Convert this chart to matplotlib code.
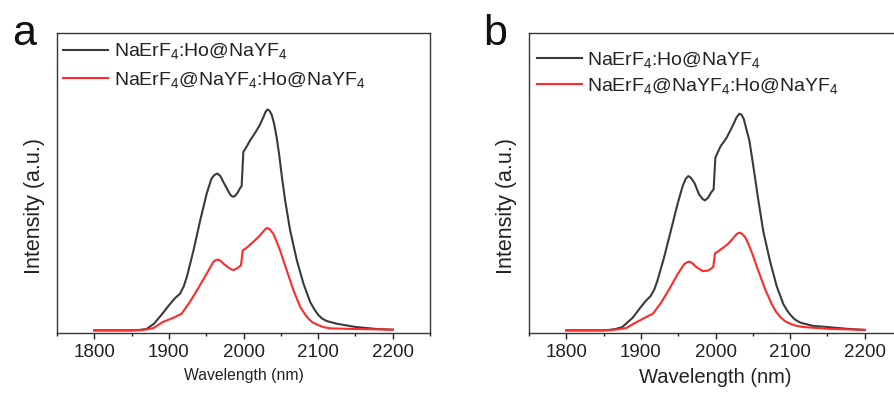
import matplotlib
matplotlib.use("Agg")
import matplotlib.pyplot as plt
from matplotlib.ticker import MultipleLocator

plt.rcParams['font.family'] = ['Liberation Sans', 'DejaVu Sans']
plt.rcParams['mathtext.fontset'] = 'custom'
plt.rcParams['mathtext.rm'] = 'Liberation Sans'
plt.rcParams['mathtext.default'] = 'regular'

# ---------------- data ----------------
labels = ['NaErF$_4$:Ho@NaYF$_4$', 'NaErF$_4$@NaYF$_4$:Ho@NaYF$_4$']
xticks = [1800, 1900, 2000, 2100, 2200]

# panel a, black
a_black_x = [1800, 1850, 1861, 1870, 1880, 1890, 1900, 1908, 1915, 1920, 1924, 1933, 1942,
             1950.6, 1957, 1961, 1965, 1969, 1973, 1978, 1982, 1985, 1988, 1992, 1995,
             1997.5, 1999.8, 2004, 2008.7, 2013, 2017.7, 2022, 2026.7, 2029.5, 2032, 2035,
             2038, 2041, 2044.6, 2048, 2052, 2055.8, 2062.5, 2071.5, 2080.4, 2089.4, 2095,
             2100.6, 2106, 2111.7, 2125, 2150.7, 2178.9, 2200]
a_black_y = [0.0, 0.0, 0.002, 0.006, 0.03, 0.07, 0.113, 0.145, 0.166, 0.2, 0.241, 0.362,
             0.498, 0.618, 0.686, 0.703, 0.709, 0.698, 0.671, 0.64, 0.615, 0.605, 0.606,
             0.622, 0.641, 0.652, 0.807, 0.83, 0.858, 0.88, 0.905, 0.93, 0.965, 0.988,
             0.999, 0.993, 0.973, 0.935, 0.87, 0.79, 0.68, 0.588, 0.452, 0.317, 0.211, 0.128,
             0.095, 0.068, 0.052, 0.042, 0.03, 0.015, 0.006, 0.003]
# panel a, red
a_red_x = [1800, 1850, 1861, 1870, 1879, 1892, 1906, 1917, 1928, 1939, 1950.6, 1959.5, 1963,
           1966, 1970, 1973, 1979, 1984, 1987, 1991, 1996.6, 1999, 2004, 2008.7, 2014, 2020,
           2026, 2029, 2032, 2035, 2040, 2044, 2049, 2058, 2067, 2076, 2082, 2087, 2093,
           2100.6, 2108, 2116, 2150.7, 2200]
a_red_y = [0.0, 0.0, 0.001, 0.004, 0.01, 0.038, 0.057, 0.075, 0.128, 0.189, 0.256, 0.309,
           0.318, 0.32, 0.312, 0.302, 0.286, 0.275, 0.273, 0.28, 0.294, 0.362, 0.373, 0.387,
           0.403, 0.422, 0.445, 0.457, 0.463, 0.458, 0.437, 0.405, 0.362, 0.271, 0.181, 0.106,
           0.075, 0.053, 0.035, 0.023, 0.014, 0.009, 0.006, 0.003]

# panel b, black
b_black_x = [1800, 1850, 1857.5, 1866, 1875, 1889, 1900, 1907, 1913, 1918, 1922, 1931, 1940,
             1949, 1956, 1960, 1963.5, 1967, 1971.6, 1978, 1983, 1986, 1990, 1994, 1997.5,
             1999.8, 2003, 2007, 2011, 2015, 2020, 2024, 2028, 2032, 2035, 2038, 2041,
             2045.5, 2051, 2057.6, 2064, 2073, 2082, 2091, 2096, 2100, 2106, 2113.5, 2131,
             2150, 2176, 2200]
b_black_y = [0.0, 0.0, 0.002, 0.006, 0.015, 0.057, 0.106, 0.135, 0.155, 0.185, 0.223, 0.329,
             0.449, 0.57, 0.653, 0.685, 0.698, 0.69, 0.668, 0.615, 0.593, 0.588, 0.6, 0.623,
             0.638, 0.781, 0.805, 0.834, 0.852, 0.872, 0.905, 0.932, 0.962, 0.98, 0.975,
             0.955, 0.915, 0.857, 0.736, 0.585, 0.449, 0.314, 0.2, 0.118, 0.09, 0.072, 0.05,
             0.035, 0.02, 0.015, 0.007, 0.002]
# panel b, red
b_red_x = [1800, 1850, 1857.5, 1868, 1880, 1893, 1907, 1916, 1927, 1938, 1949, 1958, 1962,
           1965, 1969, 1973, 1978, 1983, 1989.5, 1994, 1997, 1999.3, 2003, 2007, 2012, 2017,
           2022, 2026, 2029, 2032, 2035, 2039.7, 2044, 2048.7, 2057.6, 2066.5, 2075.5, 2081,
           2087, 2093, 2100, 2108, 2118, 2150, 2200]
b_red_y = [0.0, 0.0, 0.001, 0.004, 0.01, 0.035, 0.06, 0.075, 0.125, 0.186, 0.253, 0.299,
           0.308, 0.311, 0.304, 0.29, 0.278, 0.268, 0.27, 0.279, 0.287, 0.348, 0.356, 0.366,
           0.378, 0.392, 0.41, 0.427, 0.437, 0.442, 0.438, 0.422, 0.392, 0.352, 0.268, 0.186,
           0.118, 0.085, 0.06, 0.042, 0.03, 0.021, 0.015, 0.007, 0.002]

BLACK = '#3a3a3a'
RED = '#ff2a2a'

W, H = 894, 394
fig = plt.figure(figsize=(W / 100, H / 100), dpi=100)

def px_axes(left, top, right, bottom):
    return fig.add_axes([left / W, (H - bottom) / H, (right - left) / W, (bottom - top) / H])

ax_a = px_axes(57, 33, 430, 333)
ax_b = px_axes(529, 33, 902, 333)

panels = [
    (ax_a, a_black_x, a_black_y, a_red_x, a_red_y, 11.3, (0.016, 0.972), 0.45),
    (ax_b, b_black_x, b_black_y, b_red_x, b_red_y, 14.5, (0.021, 0.944), 0.3),
]

for ax, bx, by, rx, ry, xlab_fs, leg_anchor, lspace in panels:
    ax.plot(bx, by, color=BLACK, lw=1.5, label=labels[0], solid_joinstyle='round')
    ax.plot(rx, ry, color=RED, lw=1.5, label=labels[1], solid_joinstyle='round')
    ax.set_xlim(1750, 2250)
    ax.set_ylim(-0.012, 1.345)
    ax.set_xticks(xticks)
    ax.xaxis.set_minor_locator(MultipleLocator(50))
    ax.set_yticks([])
    ax.tick_params(axis='x', which='major', direction='out', length=4, width=1.0,
                   labelsize=13.5, colors='#222222', pad=4)
    ax.tick_params(axis='x', which='minor', direction='out', length=2.5, width=1.0,
                   colors='#222222')
    for s in ax.spines.values():
        s.set_color('#333333')
        s.set_linewidth(1.0)
    ax.set_xlabel('Wavelength (nm)', fontsize=xlab_fs, color='#222222', labelpad=5)
    ax.set_ylabel('Intensity (a.u.)', fontsize=15.5, color='#222222')
    ax.yaxis.set_label_coords(-0.032, 0.423)
    leg = ax.legend(loc='upper left', bbox_to_anchor=leg_anchor, frameon=False,
                    fontsize=14, handlelength=2.3, handletextpad=0.3,
                    labelspacing=lspace, borderpad=0, borderaxespad=0)
    for t in leg.get_texts():
        t.set_color('#222222')

fig.text(12 / W, (H - 45) / H, 'a', fontsize=31, color='#111111', ha='left', va='baseline')
fig.text(483 / W, (H - 45) / H, 'b', fontsize=31, color='#111111', ha='left', va='baseline')

fig.savefig('out.png', dpi=100)
